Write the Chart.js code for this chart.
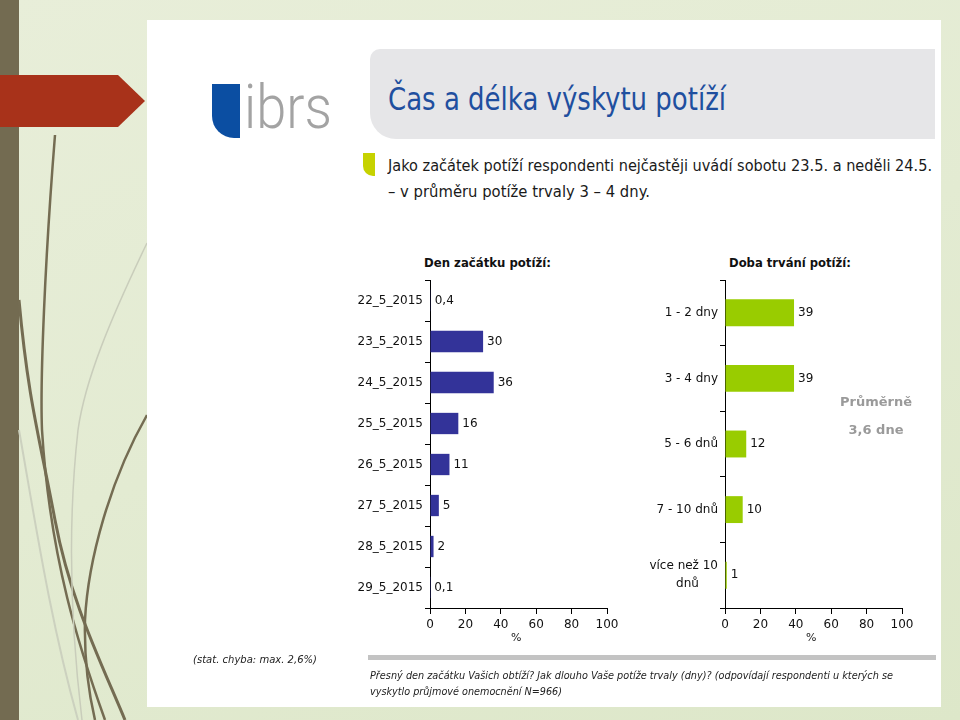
<!DOCTYPE html>
<html><head><meta charset="utf-8">
<script src="https://cdn.jsdelivr.net/npm/chart.js@4/dist/chart.umd.min.js"></script>
<style>
html,body{margin:0;padding:0;}
body{width:960px;height:720px;position:relative;overflow:hidden;
 background:linear-gradient(160deg,#e8eed9 0%,#e3ebd2 50%,#dde7c9 100%);font-family:"DejaVu Sans",sans-serif;}
.abs{position:absolute;white-space:nowrap;}
#strip{left:0;top:0;width:19px;height:720px;background:#736b51;}
#panel{left:147px;top:20px;width:794px;height:687px;background:#fff;}
#titlebox{left:370px;top:49px;width:565px;height:90px;background:#e6e6e8;border-radius:10px 0 0 26px;}
#title{left:388px;top:79px;font-size:32px;color:#1f4f9f;line-height:40px;transform-origin:0 0;}
.sub{left:388px;font-size:15.5px;color:#1a1a1a;line-height:20px;transform-origin:0 0;}
#logoBlue{left:212px;top:84px;width:28px;height:54px;background:#0b4ea2;border-bottom-left-radius:22px;}
#logoText{left:244px;top:72px;font-family:Roboto,sans-serif;font-weight:300;font-size:62px;line-height:70px;color:#a3a3a3;transform-origin:0 0;}
#bullet{left:363px;top:153px;width:12px;height:23px;background:#c6d200;border-bottom-left-radius:10px;}
.ctitle{font-weight:bold;font-size:13px;color:#111;line-height:16px;transform-origin:0 0;}
.pct{font-size:11px;color:#222;}
.avg{font-weight:bold;font-size:13px;color:#9a9a9a;text-align:center;width:120px;}
#rule{left:368px;top:655px;width:568px;height:5px;background:#c3c3c3;}
.note{font-style:italic;font-size:11px;color:#222;line-height:15px;transform-origin:0 0;}
.cbox{position:absolute;}
</style></head>
<body>
<div id="strip" class="abs"></div>
<svg class="abs" style="left:0;top:0" width="150" height="720">
  <polygon points="0,75 118,75 145,101 118,127 0,127" fill="#a8321a"/>
  <path d="M55,135 C45,260 40,380 42,430 C50,560 80,650 105,720" stroke="#746c52" stroke-width="2.5" fill="none"/>
  <path d="M19,300 C28,400 40,440 55,520 C70,600 100,660 125,720" stroke="#746c52" stroke-width="3" fill="none"/>
  <path d="M147,415 C110,480 88,560 85,620 C84,660 88,690 95,720" stroke="#746c52" stroke-width="2.5" fill="none"/>
  <path d="M147,243 C110,320 85,380 78,430 C68,520 70,620 82,720" stroke="#c9cdbb" stroke-width="1.5" fill="none"/>
  <path d="M19,430 C35,520 50,620 78,720" stroke="#ccd1bf" stroke-width="2" fill="none"/>
</svg>
<div id="panel" class="abs"></div>
<div id="logoBlue" class="abs"></div>
<div id="logoText" class="abs" data-fit="88">ibrs</div>
<div id="titlebox" class="abs"></div>
<div id="title" class="abs" data-fit="338">Čas a délka výskytu potíží</div>
<div id="bullet" class="abs"></div>
<div class="abs sub" style="top:156px" data-fit="544">Jako začátek potíží respondenti nejčastěji uvádí sobotu 23.5. a neděli 24.5.</div>
<div class="abs sub" style="top:182px" data-fit="262">– v průměru potíže trvaly 3 – 4 dny.</div>

<div class="abs ctitle" style="left:424px;top:255px" data-fit="127">Den začátku potíží:</div>
<div class="abs ctitle" style="left:729px;top:255px" data-fit="122">Doba trvání potíží:</div>

<div class="cbox" style="left:330px;top:275px;width:295px;height:375px;"><canvas id="c1"></canvas></div>
<div class="cbox" style="left:625px;top:275px;width:300px;height:375px;"><canvas id="c2"></canvas></div>

<div class="abs pct" style="left:511px;top:631px">%</div>
<div class="abs pct" style="left:806px;top:631px">%</div>
<div class="abs avg" style="left:816px;top:394px">Průměrně</div>
<div class="abs avg" style="left:816px;top:422px">3,6 dne</div>

<div id="rule" class="abs"></div>
<div class="abs note" style="left:193px;top:652px" data-fit="124">(stat. chyba: max. 2,6%)</div>
<div class="abs note" style="left:370px;top:668px" data-fit="523">Přesný den začátku Vašich obtíží? Jak dlouho Vaše potíže trvaly (dny)? (odpovídají respondenti u kterých se</div>
<div class="abs note" style="left:370px;top:684px" data-fit="192">vyskytlo průjmové onemocnění N=966)</div>

<script>
const startDays = ['22_5_2015','23_5_2015','24_5_2015','25_5_2015','26_5_2015','27_5_2015','28_5_2015','29_5_2015'];
const startValues = [0.4, 30, 36, 16, 11, 5, 2, 0.1];
const durationCats = ['1 - 2 dny','3 - 4 dny','5 - 6 dnů','7 - 10 dnů',['více než 10','dnů\u00a0\u00a0\u00a0\u00a0\u00a0']];
const durationValues = [39, 39, 12, 10, 1];
const xTickValues = [0, 20, 40, 60, 80, 100];

document.querySelectorAll('[data-fit]').forEach(el => {
  const w = el.getBoundingClientRect().width;
  const target = parseFloat(el.dataset.fit);
  el.style.transform = 'scaleX(' + (target / w) + ')';
});

const valueLabels = {
  id: 'valueLabels',
  afterDatasetsDraw(chart) {
    const ctx = chart.ctx;
    ctx.save();
    ctx.font = '12px "DejaVu Sans"';
    ctx.fillStyle = '#111';
    ctx.textAlign = 'left';
    ctx.textBaseline = 'middle';
    chart.getDatasetMeta(0).data.forEach((bar, i) => {
      const v = chart.data.datasets[0].data[i];
      ctx.fillText(String(v).replace('.', ','), bar.x + 4, bar.y);
    });
    ctx.restore();
  }
};

function makeChart(id, labels, values, color, barPct, padRight) {
  return new Chart(document.getElementById(id), {
    type: 'bar',
    data: { labels: labels, datasets: [{ data: values, backgroundColor: color, borderWidth: 0,
      barPercentage: barPct, categoryPercentage: 1 }] },
    options: {
      indexAxis: 'y', responsive: true, maintainAspectRatio: false, animation: false,
      layout: { padding: { top: 5, right: padRight, left: 0, bottom: 0 } },
      plugins: { legend: { display: false }, tooltip: { enabled: false }, title: { display: false } },
      scales: {
        x: {
          min: 0, max: 100,
          afterBuildTicks: s => { s.ticks = xTickValues.map(v => ({ value: v })); },
          grid: { drawOnChartArea: false, color: '#000', tickLength: 6, tickColor: '#000' },
          border: { color: '#000', width: 1 },
          ticks: { color: '#111', font: { family: 'DejaVu Sans', size: 12 }, padding: 4, maxRotation: 0 },
          afterFit: s => { s.height = 42; }
        },
        y: {
          grid: { drawOnChartArea: false, offset: true, color: '#000', tickLength: 5, tickColor: '#000' },
          border: { color: '#000', width: 1 },
          ticks: { color: '#111', font: { family: 'DejaVu Sans', size: 12, lineHeight: 1.5 }, padding: 2 },
          afterFit: s => { s.width = 100; s.paddingTop = 0; s.paddingBottom = 0; }
        }
      }
    },
    plugins: [valueLabels]
  });
}

makeChart('c1', startDays, startValues, '#333399', 0.52, 18);
makeChart('c2', durationCats, durationValues, '#99cc00', 0.41, 23);
</script>
</body></html>
